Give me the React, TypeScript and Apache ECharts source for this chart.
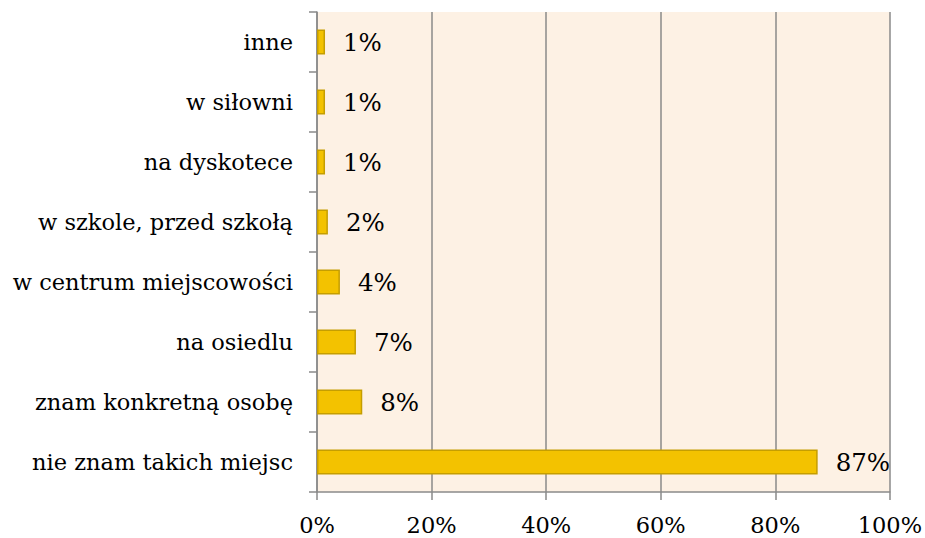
import React, { useEffect, useRef } from "react";
import * as echarts from "echarts";

const categories = [
  "nie znam takich miejsc",
  "znam konkretną osobę",
  "na osiedlu",
  "w centrum miejscowości",
  "w szkole, przed szkołą",
  "na dyskotece",
  "w siłowni",
  "inne",
];
const values = [87.4, 7.9, 6.8, 4.0, 1.9, 1.4, 1.4, 1.4];
const xTicks = [0, 20, 40, 60, 80, 100];

const FONT = "DejaVu Serif";

export default function App() {
  const ref = useRef<HTMLDivElement>(null);
  useEffect(() => {
    const chart = echarts.init(ref.current!, null, { renderer: "svg" });
    chart.setOption({
      animation: false,
      grid: {
        left: 317,
        right: 35,
        top: 12,
        bottom: 46,
        show: true,
        backgroundColor: "#FDF1E4",
        borderWidth: 0,
      },
      xAxis: {
        type: "value",
        min: xTicks[0],
        max: xTicks[xTicks.length - 1],
        interval: 20,
        axisLine: { show: true, lineStyle: { color: "#8a8a8a", width: 1.5 } },
        axisTick: { show: true, length: 8, lineStyle: { color: "#8a8a8a", width: 1.5 } },
        splitLine: { show: true, lineStyle: { color: "#8a8a8a", width: 1.5 } },
        axisLabel: {
          formatter: (v: number) => v + "%",
          color: "#000",
          fontFamily: FONT,
          fontSize: 22.5,
          margin: 21,
        },
      },
      yAxis: {
        type: "category",
        data: categories,
        axisLine: { show: true, lineStyle: { color: "#8a8a8a", width: 1.5 } },
        axisTick: { show: true, length: 8, alignWithLabel: false, lineStyle: { color: "#8a8a8a", width: 1.5 } },
        axisLabel: {
          color: "#000",
          fontFamily: FONT,
          fontSize: 22.5,
          margin: 24,
        },
      },
      series: [
        {
          type: "bar",
          data: values,
          barWidth: "42%",
          itemStyle: { color: "#F3C200", borderColor: "#C59E00", borderWidth: 1.5 },
          label: {
            show: true,
            position: "right",
            distance: 18,
            color: "#000",
            fontFamily: FONT,
            fontSize: 24.5,
            formatter: (p: any) => Math.round(p.value) + "%",
          },
        },
      ],
    });
    return () => chart.dispose();
  }, []);
  return <div ref={ref} style={{ width: 925, height: 538, position: "absolute", left: 0, top: 0 }} />;
}
